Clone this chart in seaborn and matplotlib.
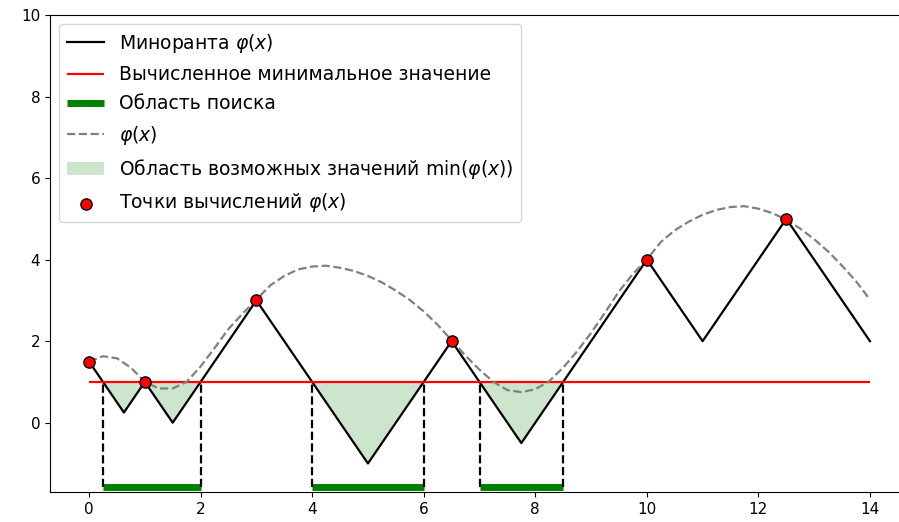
import numpy as np
import matplotlib
matplotlib.use("Agg")
import matplotlib.pyplot as plt
import seaborn as sns

# evaluation points of phi(x)
points_x = [0, 1, 3, 6.5, 10, 12.5]
points_y = [1.5, 1.0, 3.0, 2.0, 4.0, 5.0]

# minorant vertices (incl. crossings with the minimum line)
minor_x = [0, 0.25, 0.625, 1, 1.5, 2, 3, 4, 5, 6, 6.5, 7, 7.75, 8.5, 10, 11, 12.5, 14]
minor_y = [1.5, 1.0, 0.25, 1.0, 0.0, 1.0, 3.0, 1.0, -1.0, 1.0, 2.0, 1.0, -0.5, 1.0, 4.0, 2.0, 5.0, 2.0]

# phi(x)
phi_x = [0, 0.25, 0.5, 0.75, 1.0, 1.25, 1.5, 1.75, 2.0, 2.25, 2.5, 2.75, 3.0, 3.25, 3.5,
         3.75, 4.0, 4.25, 4.5, 4.75, 5.0, 5.25, 5.5, 5.75, 6.0, 6.25, 6.5, 6.75, 7.0,
         7.25, 7.5, 7.75, 8.0, 8.25, 8.5, 8.75, 9.0, 9.25, 9.5, 9.75, 10.0, 10.25, 10.5,
         10.75, 11.0, 11.25, 11.5, 11.75, 12.0, 12.25, 12.5, 12.75, 13.0, 13.25, 13.5,
         13.75, 14.0]
phi_y = [1.50, 1.63, 1.58, 1.35, 1.00, 0.84, 0.84, 1.00, 1.38, 1.83, 2.30, 2.67, 3.02, 3.37, 3.60,
         3.76, 3.83, 3.85, 3.80, 3.72, 3.60, 3.44, 3.24, 3.01, 2.73, 2.40, 2.02, 1.64, 1.30,
         1.00, 0.80, 0.75, 0.82, 1.02, 1.35, 1.75, 2.20, 2.70, 3.22, 3.65, 4.00, 4.43, 4.72,
         4.93, 5.10, 5.22, 5.29, 5.31, 5.25, 5.14, 4.98, 4.76, 4.50, 4.20, 3.85,
         3.47, 3.02]

# search intervals and computed minimum
search_start = [0.25, 4, 7]
search_end = [2, 6, 8.5]
min_value = 1.0

fig = plt.figure(figsize=(8.99, 5.22), dpi=100)
ax = fig.add_axes([50 / 899, 1 - 492 / 522, (909 - 50) / 899, (492 - 15) / 522])

mx = np.array(minor_x)
my = np.array(minor_y)

sns.lineplot(x=minor_x, y=minor_y, color="black", lw=1.6, ax=ax, sort=False)
h_minor = ax.lines[-1]
h_min = ax.hlines(min_value, minor_x[0], minor_x[-1], color="red", lw=1.6)

bar_y = -1.57
h_search = None
for s, e in zip(search_start, search_end):
    h_search, = ax.plot([s, e], [bar_y, bar_y], color="green", lw=5, solid_capstyle="butt")
    ax.vlines([s, e], bar_y, min_value, color="black", linestyles="--", lw=1.6)

sns.lineplot(x=phi_x, y=phi_y, color="gray", ls="--", lw=1.6, ax=ax, sort=False)
h_phi = ax.lines[-1]

h_fill = ax.fill_between(mx, my, min_value, where=my <= min_value, color="green", alpha=0.2, lw=0)

h_pts = ax.scatter(points_x, points_y, s=65, color="red", edgecolor="black", zorder=5)

ax.set_xlim(-0.7, 14.7)
ax.set_ylim(-1.7, 10)
ax.tick_params(labelsize=11)

ax.legend([h_minor, h_min, h_search, h_phi, h_fill, h_pts],
          [r"Миноранта $\varphi(x)$", "Вычисленное минимальное значение", "Область поиска",
           r"$\varphi(x)$", r"Область возможных значений $\min(\varphi(x))$",
           r"Точки вычислений $\varphi(x)$"],
          loc="upper left", fontsize=13.5, labelspacing=0.55)

fig.savefig("out.png", dpi=100)
